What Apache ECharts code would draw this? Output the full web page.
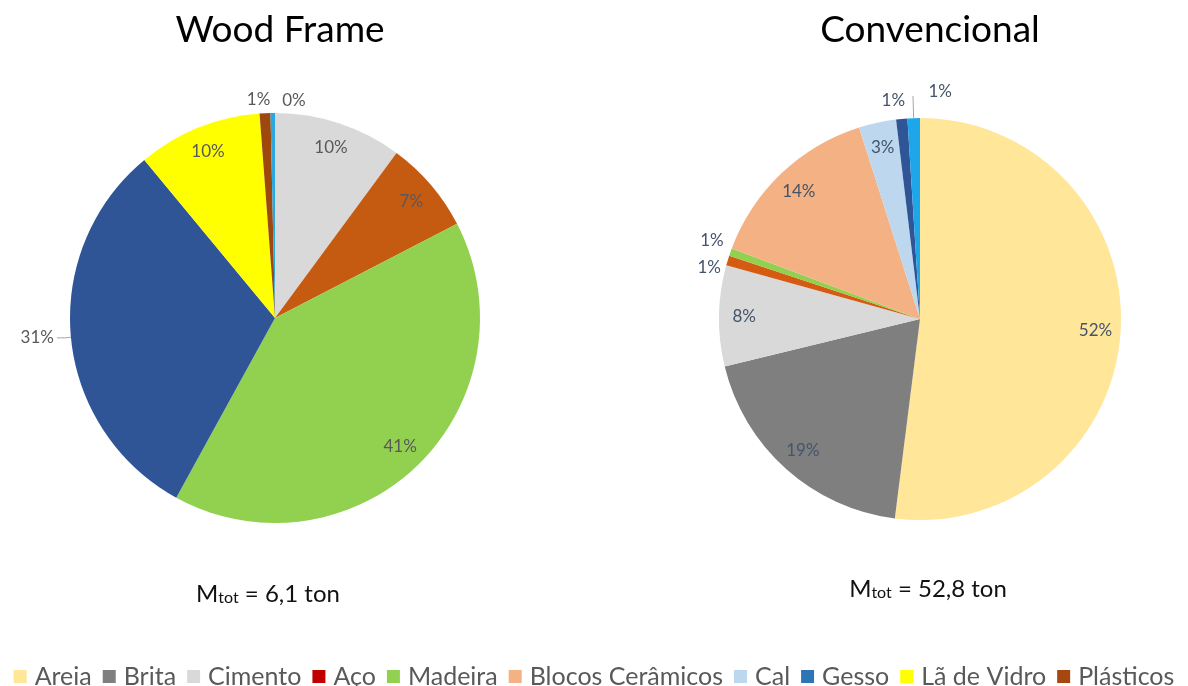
<!DOCTYPE html>
<html><head><meta charset="utf-8">
<script src="https://cdn.jsdelivr.net/npm/echarts@6/dist/echarts.min.js"></script>
<style>html,body{margin:0;padding:0;background:#fff}#c{width:1188px;height:686px}</style>
</head><body><div id="c"></div>
<script>
// ---- data ----
const legendNames = ['Areia','Brita','Cimento','Aço','Madeira','Blocos Cerâmicos','Cal','Gesso','Lã de Vidro','Plásticos'];
const chartTitles = ['Wood Frame','Convencional'];
const totalMass = ['6,1','52,8'];
const woodFrameNames = ['Cimento','Aço','Madeira','Gesso','Lã de Vidro','Plásticos','Outros'];
const woodFrameValues = [10.1,7.3,40.6,31.0,9.8,0.85,0.35];
const convNames = ['Areia','Brita','Cimento','Aço','Madeira','Blocos Cerâmicos','Cal','Gesso','Outros'];
const convValues = [52.0,19.2,8.1,0.8,0.6,14.4,3.0,0.9,1.0];

// ---- styles ----
const legendColor = {'Areia':'#FFE699','Brita':'#7F7F7F','Cimento':'#D9D9D9','Aço':'#C00000','Madeira':'#92D050',
  'Blocos Cerâmicos':'#F4B183','Cal':'#BDD7EE','Gesso':'#2E75B6','Lã de Vidro':'#FFFF00','Plásticos':'#A5470F'};
const sliceColor = [
  {'Cimento':'#D9D9D9','Aço':'#C55A11','Madeira':'#92D050','Gesso':'#2F5597','Lã de Vidro':'#FFFF00','Plásticos':'#9E480E','Outros':'#2AA7E0'},
  {'Areia':'#FFE699','Brita':'#7F7F7F','Cimento':'#D9D9D9','Aço':'#D55A12','Madeira':'#92D050','Blocos Cerâmicos':'#F4B183',
   'Cal':'#BDD7EE','Gesso':'#2F5597','Outros':'#1EA6EA'}
];
const outsideItems = [
  {'Gesso':{len:6,len2:8,line:true},'Plásticos':{len:14,len2:0,line:false,dx:9},'Outros':{len:12,len2:0,line:false,dx:36}},
  {'Aço':{len:4,len2:0,line:false,dy:8},'Madeira':{len:4,len2:0,line:false,dy:-10},'Gesso':{len:18,len2:0,line:false,dx:8},
   'Outros':{len:22,len2:0,line:true,dx:42,dy:-5}}
];
const labelColor = ['#595959','#44546A'];
const pieCenter = [[275,318],[920,319]];
const pieRadius = [205,201];

const pct = p => Math.round(p.percent) + '%';

function buildSeries(idx, names, values) {
  const outs = outsideItems[idx];
  const main = {
    type:'pie', name: chartTitles[idx], center: pieCenter[idx], radius: [0, pieRadius[idx]],
    startAngle: 90, clockwise: true, avoidLabelOverlap: false, z: 2,
    emphasis:{disabled:true},
    itemStyle:{borderWidth:0},
    data: names.map((n,i) => {
      const o = outs[n];
      return {
        name:n, value:values[i], itemStyle:{color:sliceColor[idx][n]},
        label: o ? {show:true, position:'outside', distanceToLabelLine:3} : {show:false},
        labelLine: o ? {show:o.line, length:o.len, length2:o.len2, lineStyle:{color:'#A6A6A6',width:1}} : {show:false}
      };
    }),
    label:{formatter:pct, color:labelColor[idx], fontFamily:'Lato', fontSize:17},
    labelLayout: function(p){
      const n = names[p.dataIndex]; const o = outs[n];
      return o ? {dx:o.dx||0, dy:o.dy||0} : {};
    }
  };
  const overlay = {
    type:'pie', name: chartTitles[idx]+' labels', center: pieCenter[idx],
    radius: [pieRadius[idx]*0.72, pieRadius[idx]], startAngle: 90, clockwise: true,
    silent:true, z: 3, emphasis:{disabled:true}, avoidLabelOverlap:false,
    itemStyle:{color:'rgba(0,0,0,0)', borderWidth:0},
    data: names.map((n,i) => ({
      name:n, value:values[i],
      label: outs[n] ? {show:false} : {show:true}
    })),
    label:{position:'inside', formatter:pct, color:labelColor[idx], fontFamily:'Lato', fontSize:17},
    labelLine:{show:false}
  };
  return [main, overlay];
}

const chart = echarts.init(document.getElementById('c'), null, {renderer:'canvas'});
const massRich = {
  m:{fontFamily:'Lato',fontSize:24,fontWeight:'normal',color:'#111',lineHeight:28,verticalAlign:'bottom'},
  s:{fontFamily:'Lato',fontSize:16,fontWeight:'normal',color:'#111',lineHeight:22,verticalAlign:'bottom'}
};
chart.setOption({
  backgroundColor:'#fff',
  animation:false,
  title: [
    {text:chartTitles[0], left:275, top:7, textAlign:'center', textStyle:{fontFamily:'Lato',fontSize:37,fontWeight:'normal',color:'#000'}},
    {text:chartTitles[1], left:925, top:7, textAlign:'center', textStyle:{fontFamily:'Lato',fontSize:37,fontWeight:'normal',color:'#000'}},
    {text:'{m|M}{s|tot}{m| = '+totalMass[0]+' ton}', left:263, top:573, textAlign:'center', textStyle:{fontWeight:'normal',rich:massRich}},
    {text:'{m|M}{s|tot}{m| = '+totalMass[1]+' ton}', left:923, top:568, textAlign:'center', textStyle:{fontWeight:'normal',rich:massRich}}
  ],
  legend: {
    top: 664, left: 'center', padding:0, icon:'rect', itemWidth:13, itemHeight:13, itemGap:11, selectedMode:false,
    textStyle:{fontFamily:'Lato', fontSize:25, color:'#595959', padding:[0,0,0,3]},
    data: legendNames.map(n => ({name:n, itemStyle:{color:legendColor[n]}}))
  },
  series: [...buildSeries(0, woodFrameNames, woodFrameValues), ...buildSeries(1, convNames, convValues)]
});
</script></body></html>
